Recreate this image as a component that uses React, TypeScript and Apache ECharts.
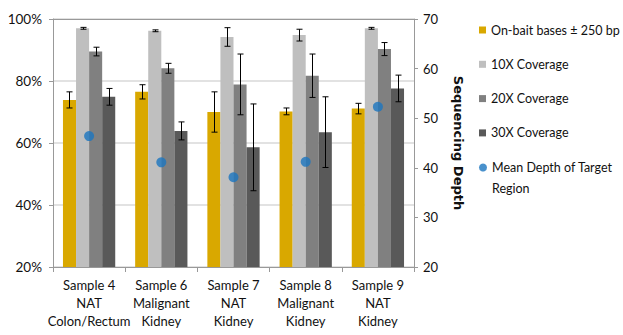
import React, { useEffect, useRef } from "react";
import * as echarts from "echarts";

const categories = [
  "Sample 4\nNAT\nColon/Rectum",
  "Sample 6\nMalignant\nKidney",
  "Sample 7\nNAT\nKidney",
  "Sample 8\nMalignant\nKidney",
  "Sample 9\nNAT\nKidney",
];
const seriesNames = [
  "On-bait bases ± 250 bp",
  "10X Coverage",
  "20X Coverage",
  "30X Coverage",
];
const onBait = [73.9, 76.5, 70.0, 70.2, 71.1];
const onBaitErr = [2.6, 2.3, 6.5, 1.1, 1.7];
const cov10 = [97.0, 96.2, 94.2, 94.8, 97.0];
const cov10Err = [0.3, 0.3, 3.0, 1.9, 0.3];
const cov20 = [89.5, 84.1, 78.9, 81.7, 90.3];
const cov20Err = [1.4, 1.6, 9.8, 7.0, 2.1];
const cov30 = [74.9, 63.9, 58.6, 63.5, 77.6];
const cov30Err = [2.7, 2.9, 14.0, 11.4, 4.3];
const meanDepthName = "Mean Depth of Target Region";
const meanDepth = [46.4, 41.1, 38.1, 41.2, 52.3];

const colors = ["#D9A800", "#BFBFBF", "#808080", "#595959"];
const dotColor = "#1B75BF";
const FONT = "Lato";
const GAP = 0.276;

export default function App() {
  const ref = useRef<HTMLDivElement>(null);
  useEffect(() => {
    if (!ref.current) return;
    document.body.style.margin = "0";
    const chart = echarts.init(ref.current, undefined, { renderer: "svg" });
    const values = [onBait, cov10, cov20, cov30];
    const errs = [onBaitErr, cov10Err, cov20Err, cov30Err];
    const errData: number[][] = [];
    values.forEach((arr, k) =>
      arr.forEach((v, i) => errData.push([i, v, errs[k][i], k]))
    );
    const barSeries = seriesNames.map((name, k) => ({
      name,
      type: "bar",
      yAxisIndex: 0,
      data: values[k],
      barGap: "0%",
      barCategoryGap: GAP * 100 + "%",
      itemStyle: { color: colors[k] },
      z: 2,
    }));
    chart.setOption({
      animation: false,
      textStyle: { fontFamily: FONT },
      grid: { left: 53, right: 209, top: 19, bottom: 68 },
      legend: [
        {
          orient: "vertical",
          left: 479,
          top: 22,
          padding: 0,
          itemWidth: 7,
          itemHeight: 7,
          itemGap: 18.3,
          textStyle: { fontFamily: FONT, fontSize: 12.5, color: "#111", lineHeight: 16 },
          data: seriesNames.map((n) => ({ name: n, icon: "rect" })),
        },
        {
          orient: "vertical",
          left: 479,
          top: 136,
          padding: 0,
          itemWidth: 8,
          itemHeight: 8,
          textStyle: { fontFamily: FONT, fontSize: 12.5, color: "#111", lineHeight: 21 },
          formatter: () => "\nMean Depth of Target\nRegion",
          data: [{ name: meanDepthName, icon: "circle" }],
        },
      ],
      xAxis: [
        {
          type: "category",
          data: categories,
          position: "bottom",
          axisLine: { lineStyle: { color: "#999" } },
          axisTick: { show: true, length: 5, lineStyle: { color: "#999" } },
          axisLabel: {
            color: "#111",
            fontFamily: FONT,
            fontSize: 13,
            lineHeight: 18,
            margin: 9,
            interval: 0,
          },
        },
        {
          type: "category",
          data: categories,
          position: "top",
          axisLine: { lineStyle: { color: "#999" } },
          axisTick: { show: false },
          axisLabel: { show: false },
        },
      ],
      yAxis: [
        {
          type: "value",
          min: 20,
          max: 100,
          interval: 20,
          position: "left",
          axisLine: { show: true, lineStyle: { color: "#999" } },
          axisTick: { show: true, length: 4, lineStyle: { color: "#999" } },
          axisLabel: {
            formatter: "{value}%",
            color: "#111",
            fontFamily: FONT,
            fontSize: 13.5,
            margin: 11,
          },
          splitLine: { show: true, lineStyle: { color: "#D9D9D9", width: 1.5 } },
        },
        {
          type: "value",
          min: 20,
          max: 70,
          interval: 10,
          position: "right",
          name: "Sequencing Depth",
          nameLocation: "middle",
          nameRotate: -90,
          nameGap: 38,
          nameTextStyle: {
            fontFamily: "DejaVu Sans",
            fontWeight: "bold",
            fontSize: 13,
            color: "#111",
          },
          axisLine: { show: true, lineStyle: { color: "#999" } },
          axisTick: { show: true, length: 4, lineStyle: { color: "#999" } },
          axisLabel: { color: "#111", fontFamily: FONT, fontSize: 13, margin: 9 },
          splitLine: { show: false },
        },
      ],
      series: [
        ...barSeries,
        {
          type: "custom",
          name: "errors",
          yAxisIndex: 0,
          z: 5,
          data: errData,
          encode: { x: 0, y: 1 },
          renderItem: (params: any, api: any) => {
            const cat = api.value(0);
            const v = api.value(1);
            const e = api.value(2);
            const k = api.value(3);
            const c = api.coord([cat, v]);
            const band = api.size([1, 0])[0];
            const barW = (band * (1 - GAP)) / 4;
            const x = Math.round(c[0] + (k - 1.5) * barW) + 0.5;
            const top = api.coord([cat, v + e])[1];
            const bot = api.coord([cat, v - e])[1];
            const cap = 3;
            const style = { stroke: "#000", lineWidth: 1 };
            return {
              type: "group",
              children: [
                { type: "line", shape: { x1: x, y1: top, x2: x, y2: bot }, style },
                { type: "line", shape: { x1: x - cap, y1: top, x2: x + cap, y2: top }, style },
                { type: "line", shape: { x1: x - cap, y1: bot, x2: x + cap, y2: bot }, style },
              ],
            };
          },
        },
        {
          name: meanDepthName,
          type: "scatter",
          yAxisIndex: 1,
          data: meanDepth,
          symbol: "circle",
          symbolSize: 10,
          itemStyle: { color: dotColor },
          z: 6,
        },
      ],
    });
    return () => chart.dispose();
  }, []);
  return <div ref={ref} style={{ width: 623, height: 335 }} />;
}
